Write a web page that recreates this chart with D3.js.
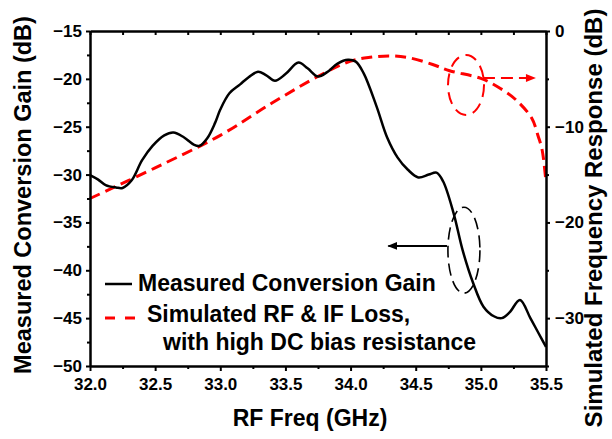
<!DOCTYPE html>
<html>
<head>
<meta charset="utf-8">
<script src="https://cdn.jsdelivr.net/npm/d3@7"></script>
<style>
  body { margin: 0; background: #fff; }
  text { font-family: Arial, "Liberation Sans", sans-serif; font-weight: bold; }
</style>
</head>
<body>
<div id="chart"></div>
<script>
// measured conversion gain (left axis, dB)
const gainFreq = [32.00, 32.06, 32.12, 32.20, 32.25, 32.32, 32.40, 32.48, 32.57, 32.64, 32.72, 32.80, 32.84,
                  32.90, 32.96, 33.00, 33.07, 33.15, 33.22, 33.29, 33.35, 33.42, 33.50, 33.60, 33.67, 33.75,
                  33.82, 33.90, 33.98, 34.04, 34.10, 34.20, 34.28, 34.36, 34.44, 34.52, 34.60, 34.66, 34.71,
                  34.79, 34.86, 34.94, 35.02, 35.10, 35.16, 35.22, 35.30, 35.38, 35.44, 35.50];
const gainDb = [-30.05, -30.5, -31.1, -31.35, -31.4, -30.6, -28.5, -27.0, -25.9, -25.6, -26.1, -26.9, -27.0,
                -26.2, -24.6, -23.2, -21.5, -20.6, -19.8, -19.25, -19.6, -20.2, -19.5, -18.3, -18.9, -19.75,
                -19.3, -18.4, -18.0, -18.2, -19.4, -22.9, -26.1, -28.2, -29.5, -30.3, -30.0, -29.8, -30.7,
                -34.0, -37.9, -41.3, -43.8, -44.8, -45.0, -44.4, -43.1, -45.0, -46.5, -48.0];

// simulated RF & IF loss (right axis, dB)
const simFreq = [32.0, 32.5, 33.0, 33.4, 33.77, 34.0, 34.15, 34.3, 34.45, 34.63, 34.76, 35.0, 35.15, 35.27, 35.39, 35.44, 35.47, 35.5];
const simDb = [-17.5, -14.3, -10.9, -7.5, -4.6, -3.15, -2.75, -2.6, -2.8, -3.5, -4.15, -4.95, -6.0, -7.2, -9.1, -11.0, -12.4, -15.8];

const xTicks = [32.0, 32.5, 33.0, 33.5, 34.0, 34.5, 35.0, 35.5];
const xMinorTicks = [32.25, 32.75, 33.25, 33.75, 34.25, 34.75, 35.25];
const leftTicks = [-15, -20, -25, -30, -35, -40, -45, -50];
const leftMinorTicks = [-17.5, -22.5, -27.5, -32.5, -37.5, -42.5, -47.5];
const rightTicks = [0, -10, -20, -30];
const rightMinorTicks = [-5, -15, -25, -35];

const legendLabels = ["Measured Conversion Gain", "Simulated RF & IF Loss,", "with high DC bias resistance"];

let margin = {top: 31, right: 66, bottom: 73, left: 90};
let svgWidth = 612, svgHeight = 439;
let width = svgWidth - margin.left - margin.right, height = svgHeight - margin.top - margin.bottom;

let x = d3.scaleLinear().domain([32, 35.5]).range([0, width]);
let yL = d3.scaleLinear().domain([-50, -15]).range([height, 0]);
let yR = d3.scaleLinear().domain([-35, 0]).range([height, 0]);

let svg = d3.select("#chart").append("svg")
    .attr("width", svgWidth)
    .attr("height", svgHeight);

let defs = svg.append("defs");
defs.append("marker").attr("id", "headBlack")
    .attr("viewBox", "0 0 10 10").attr("refX", 9).attr("refY", 5)
    .attr("markerWidth", 5).attr("markerHeight", 5).attr("orient", "auto")
    .attr("markerUnits", "strokeWidth")
    .append("path").attr("d", "M0,1 L10,5 L0,9 z").attr("fill", "#000");
defs.append("marker").attr("id", "headRed")
    .attr("viewBox", "0 0 10 10").attr("refX", 9).attr("refY", 5)
    .attr("markerWidth", 6).attr("markerHeight", 5).attr("orient", "auto")
    .attr("markerUnits", "strokeWidth")
    .append("path").attr("d", "M0,1 L10,5 L0,9 z").attr("fill", "#ff0000");

let g = svg.append("g").attr("transform", "translate(" + margin.left + "," + margin.top + ")");

// lines
let lineGain = d3.line()
    .x(function(d, i) { return x(gainFreq[i]); })
    .y(function(d) { return yL(d); })
    .curve(d3.curveCatmullRom.alpha(0.5));
let lineSim = d3.line()
    .x(function(d, i) { return x(simFreq[i]); })
    .y(function(d) { return yR(d); })
    .curve(d3.curveCatmullRom.alpha(0.5));

g.append("path").datum(simDb)
    .attr("d", lineSim)
    .attr("fill", "none")
    .attr("stroke", "#ff0000")
    .attr("stroke-width", 3)
    .attr("stroke-dasharray", "11,6");

g.append("path").datum(gainDb)
    .attr("d", lineGain)
    .attr("fill", "none")
    .attr("stroke", "#000")
    .attr("stroke-width", 2.5);

// annotations
g.append("ellipse")
    .attr("cx", x(34.87)).attr("cy", yL(-37.9))
    .attr("rx", 16).attr("ry", 43)
    .attr("fill", "none").attr("stroke", "#000").attr("stroke-width", 1.6)
    .attr("stroke-dasharray", "12,6");
g.append("line")
    .attr("x1", x(34.74)).attr("y1", yL(-37.45))
    .attr("x2", x(34.29)).attr("y2", yL(-37.45))
    .attr("stroke", "#000").attr("stroke-width", 2)
    .attr("marker-end", "url(#headBlack)");

g.append("ellipse")
    .attr("cx", x(34.886)).attr("cy", yR(-5.64))
    .attr("rx", 18).attr("ry", 30)
    .attr("fill", "none").attr("stroke", "#ff0000").attr("stroke-width", 2)
    .attr("stroke-dasharray", "12,7");
g.append("line")
    .attr("x1", x(35.016)).attr("y1", yR(-4.9))
    .attr("x2", x(35.415)).attr("y2", yR(-4.9))
    .attr("stroke", "#ff0000").attr("stroke-width", 2)
    .attr("stroke-dasharray", "12,6")
    .attr("marker-end", "url(#headRed)");

// axes
let axisStyle = function(sel) {
    sel.select(".domain").attr("stroke", "#000").attr("stroke-width", 2.5);
    sel.selectAll(".tick line").attr("stroke", "#000").attr("stroke-width", 2);
    sel.selectAll("text").attr("font-size", "17px").attr("fill", "#000");
};

g.append("g")
    .attr("transform", "translate(0," + height + ")")
    .call(d3.axisBottom(x).tickValues(xTicks).tickSize(5).tickPadding(7).tickSizeOuter(0).tickFormat(d3.format(".1f")))
    .call(axisStyle);
g.append("g")
    .attr("transform", "translate(0," + height + ")")
    .call(d3.axisBottom(x).tickValues(xMinorTicks).tickSize(3).tickFormat(""))
    .call(axisStyle)
    .select(".domain").remove();

g.append("g")
    .call(d3.axisTop(x).tickValues(xTicks.concat(xMinorTicks)).tickSize(-4).tickSizeOuter(0).tickFormat(""))
    .call(axisStyle);

g.append("g")
    .call(d3.axisLeft(yL).tickValues(leftTicks).tickSize(4).tickPadding(4).tickSizeOuter(0))
    .call(axisStyle);
g.append("g")
    .call(d3.axisLeft(yL).tickValues(leftMinorTicks).tickSize(3).tickFormat(""))
    .call(axisStyle)
    .select(".domain").remove();

g.append("g")
    .attr("transform", "translate(" + width + ",0)")
    .call(d3.axisRight(yR).tickValues(rightTicks).tickSize(4).tickPadding(5).tickSizeOuter(0))
    .call(axisStyle);
g.append("g")
    .attr("transform", "translate(" + width + ",0)")
    .call(d3.axisRight(yR).tickValues(rightMinorTicks).tickSize(3).tickFormat(""))
    .call(axisStyle)
    .select(".domain").remove();

// axis titles
svg.append("text")
    .text("RF Freq (GHz)")
    .attr("x", margin.left + width / 2 - 8)
    .attr("y", 426)
    .attr("text-anchor", "middle")
    .attr("font-size", "23px");

svg.append("text")
    .text("Measured Conversion Gain (dB)")
    .attr("transform", "translate(31,195) rotate(-90)")
    .attr("text-anchor", "middle")
    .attr("font-size", "23.5px");

svg.append("text")
    .text("Simulated Frequency Response (dB)")
    .attr("transform", "translate(602,218) rotate(-90)")
    .attr("text-anchor", "middle")
    .attr("font-size", "24px");

// legend
let legend = svg.append("g");
legend.append("line")
    .attr("x1", 105).attr("x2", 132).attr("y1", 284).attr("y2", 284)
    .attr("stroke", "#000").attr("stroke-width", 2.5);
legend.append("line")
    .attr("x1", 105).attr("x2", 135).attr("y1", 318).attr("y2", 318)
    .attr("stroke", "#ff0000").attr("stroke-width", 3)
    .attr("stroke-dasharray", "10,10");
legend.append("text").text(legendLabels[0]).attr("x", 138).attr("y", 291).attr("font-size", "23px");
legend.append("text").text(legendLabels[1]).attr("x", 147).attr("y", 322).attr("font-size", "23px");
legend.append("text").text(legendLabels[2]).attr("x", 163).attr("y", 350).attr("font-size", "23px");
</script>
</body>
</html>
